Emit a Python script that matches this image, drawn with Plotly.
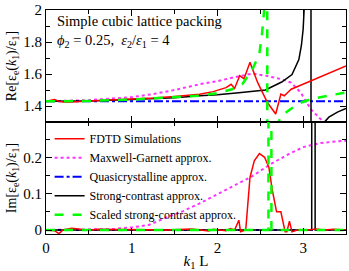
import plotly.graph_objects as go
from plotly.subplots import make_subplots

# ---------------- data ----------------
# FDTD simulations
k_fdtd_re = [0, 0.05, 0.1, 0.15, 0.2, 0.3, 0.4, 0.5, 0.75, 1.0, 1.25, 1.5, 1.79, 1.95,
             2.05, 2.10, 2.16, 2.20, 2.26, 2.31, 2.38, 2.47, 2.585, 2.68, 2.74, 2.78,
             2.82, 2.86, 2.95, 3.05, 3.2, 3.35, 3.5]
re_fdtd = [1.43, 1.435, 1.44, 1.43, 1.425, 1.425, 1.43, 1.432, 1.437, 1.442, 1.45, 1.46,
           1.474, 1.49, 1.505, 1.515, 1.536, 1.51, 1.59, 1.57, 1.673, 1.546, 1.42, 1.35,
           1.474, 1.464, 1.485, 1.505, 1.525, 1.548, 1.58, 1.615, 1.65]
k_fdtd_im = [0, 0.1, 0.15, 0.2, 0.3, 0.4, 0.5, 0.6, 0.8, 1.0, 1.2, 1.4, 1.6, 1.7, 1.8,
             1.9, 1.95, 2.0, 2.1, 2.15, 2.2, 2.25, 2.27, 2.33, 2.38, 2.43, 2.49, 2.55,
             2.60, 2.64, 2.69, 2.74, 2.79, 2.81, 2.84, 2.87, 2.95, 3.05, 3.15, 3.25,
             3.35, 3.5]
im_fdtd = [0, -0.002, -0.01, 0.0, 0.005, 0.003, -0.001, 0.002, 0.001, 0.0, 0.001, 0.0,
           0.001, 0.003, 0.0, -0.003, 0.002, 0.001, -0.002, 0.004, 0.0, 0.027, -0.005,
           0.0, 0.145, 0.19, 0.21, 0.2, 0.173, 0.11, 0.05, 0.05, -0.005, -0.005, 0.024,
           -0.005, 0.001, 0.0, 0.003, 0.0, 0.002, 0.0]

# Maxwell-Garnett approximation
k_mg = [0, 0.5, 1.0, 1.25, 1.5, 1.79, 2.0, 2.17, 2.41, 2.56, 2.76, 2.86, 2.97, 3.09,
        3.19, 3.24, 3.35, 3.5]
re_mg = [1.429, 1.437, 1.455, 1.475, 1.50, 1.536, 1.555, 1.577, 1.603, 1.59, 1.566,
         1.546, 1.485, 1.38, 1.325, 1.30, 1.28, 1.285]
k_mg_im = [0, 0.5, 0.8, 1.0, 1.2, 1.4, 1.6, 1.8, 2.0, 2.2, 2.4, 2.6, 2.8, 3.0, 3.2,
           3.4, 3.5]
im_mg = [0, 0.001, 0.003, 0.007, 0.014, 0.034, 0.052, 0.074, 0.098, 0.122, 0.147,
         0.178, 0.205, 0.228, 0.239, 0.244, 0.245]

# Quasicrystalline approximation
k_qc = [0, 1.0, 2.0, 3.0, 3.5]
re_qc = [1.43, 1.43, 1.43, 1.43, 1.43]
im_qc = [0, 0, 0, 0, 0]

# Strong-contrast approximation
k_sc = [0, 0.5, 1.0, 1.5, 1.79, 2.0, 2.25, 2.56, 2.75, 2.87, 2.95, 2.98, 3.0, 3.03,
        3.09, 3.095, 3.15, 3.22, 3.25, 3.3, 3.4, 3.5]
re_sc = [1.429, 1.432, 1.44, 1.452, 1.464, 1.47, 1.483, 1.50, 1.55, 1.597, 1.69, 1.78,
         1.88, 2.2, 5.0, -5.0, 0.9, 1.25, 1.30, 1.33, 1.362, 1.385]
k_sc_im = [0, 3.1, 3.105, 3.135, 3.14, 3.5]
im_sc = [0, 0, 5.0, 5.0, 0, 0]

# Scaled strong-contrast approximation
k_ssc = [0, 0.5, 1.0, 1.5, 1.79, 2.0, 2.17, 2.29, 2.41, 2.49, 2.52, 2.545, 2.58,
         2.585, 2.65, 2.71, 2.75, 2.85, 2.97, 3.1, 3.27, 3.5]
re_ssc = [1.429, 1.432, 1.44, 1.455, 1.464, 1.48, 1.505, 1.536, 1.63, 1.73, 1.85, 2.0,
          4.0, -4.0, 1.0, 1.30, 1.34, 1.38, 1.42, 1.445, 1.464, 1.485]
k_ssc_im = [0, 2.595, 2.6, 2.625, 2.63, 3.5]
im_ssc = [0, 0, 5.0, 5.0, 0, 0]

x_ticks = [0, 1, 2, 3]
re_ticks = [1.4, 1.6, 1.8, 2.0]
re_ticktext = ["1.4", "1.6", "1.8", "2"]
im_ticks = [0, 0.1, 0.2]
im_ticktext = ["0", "0.1", "0.2"]

names = ["FDTD Simulations", "Maxwell-Garnett approx.", "Quasicrystalline approx.",
         "Strong-contrast approx.", "Scaled strong-contrast approx."]

# ---------------- figure ----------------
SERIF = "Liberation Serif, Times New Roman, serif"
fig = make_subplots(rows=2, cols=1, shared_xaxes=True, vertical_spacing=0)

styles = {
    "mg": dict(color="#ff33ff", width=2, dash="dot"),
    "qc": dict(color="#0000ff", width=2, dash="dashdot"),
    "sc": dict(color="black", width=1.5),
    "fdtd": dict(color="#ff0000", width=1.5),
    "ssc": dict(color="#00ff00", width=2.5, dash="dash"),
}

def add_pair(key, name, rank, kre, vre, kim, vim):
    fig.add_trace(go.Scatter(x=kre, y=vre, mode="lines", line=styles[key], name=name,
                             legendrank=rank, showlegend=True, legendgroup=key),
                  row=1, col=1)
    fig.add_trace(go.Scatter(x=kim, y=vim, mode="lines", line=styles[key], name=name,
                             legendrank=rank, showlegend=False, legendgroup=key),
                  row=2, col=1)

add_pair("mg", names[1], 2, k_mg, re_mg, k_mg_im, im_mg)
add_pair("qc", names[2], 3, k_qc, re_qc, k_qc, im_qc)
add_pair("sc", names[3], 4, k_sc, re_sc, k_sc_im, im_sc)
add_pair("fdtd", names[0], 1, k_fdtd_re, re_fdtd, k_fdtd_im, im_fdtd)
add_pair("ssc", names[4], 5, k_ssc, re_ssc, k_ssc_im, im_ssc)

axis_common = dict(showline=True, linecolor="black", linewidth=1, mirror="ticks",
                   ticks="inside", ticklen=6, tickcolor="black", tickwidth=1,
                   showgrid=False, zeroline=False, ticklabeloverflow="allow",
                   tickfont=dict(family=SERIF, size=15, color="black"))

fig.update_xaxes(**axis_common, range=[0, 3.5], tickvals=x_ticks,
                 minor=dict(dtick=0.5, ticks="inside", ticklen=4, tickcolor="black"))
fig.update_xaxes(showticklabels=False, row=1, col=1)
fig.update_xaxes(title=dict(text="<i>k</i><sub>1</sub> L", standoff=2,
                            font=dict(family=SERIF, size=15, color="black")),
                 row=2, col=1)

fig.update_yaxes(**axis_common)
fig.update_yaxes(range=[1.3, 2.0005], tickvals=re_ticks, ticktext=re_ticktext,
                 minor=dict(dtick=0.1, tick0=1.3, ticks="inside", ticklen=4, tickcolor="black"),
                 title=dict(text="Re[ε<sub>e</sub>(<i>k</i><sub>1</sub>)/ε<sub>1</sub>]",
                            standoff=3, font=dict(family=SERIF, size=14, color="black")),
                 row=1, col=1)
fig.update_yaxes(range=[-0.011, 0.297], tickvals=im_ticks, ticktext=im_ticktext,
                 minor=dict(dtick=0.05, tick0=0, ticks="inside", ticklen=4, tickcolor="black"),
                 title=dict(text="Im[ε<sub>e</sub>(<i>k</i><sub>1</sub>)/ε<sub>1</sub>]",
                            standoff=3, font=dict(family=SERIF, size=14, color="black")),
                 row=2, col=1)

fig.add_annotation(xref="paper", yref="paper", x=0.03, y=0.995, xanchor="left",
                   yanchor="top", showarrow=False, align="left",
                   text="Simple cubic lattice packing<br><i>ϕ</i><sub>2</sub> = 0.25,  "
                        "<i>ε</i><sub>2</sub>/<i>ε</i><sub>1</sub> = 4",
                   font=dict(family=SERIF, size=14.5, color="black"))

fig.update_layout(
    width=349, height=271,
    margin=dict(l=46, r=2, t=6, b=37),
    paper_bgcolor="white", plot_bgcolor="white",
    showlegend=True,
    legend=dict(x=0.012, y=0.49, xanchor="left", yanchor="top",
                bgcolor="rgba(0,0,0,0)", borderwidth=0, tracegroupgap=0,
                font=dict(family=SERIF, size=12, color="black"),
                itemwidth=30, traceorder="normal"),
)

fig.write_html("out.html", config={"displayModeBar": False},
               post_script="document.body.style.margin='0';"
                           "document.body.style.overflow='hidden';")
